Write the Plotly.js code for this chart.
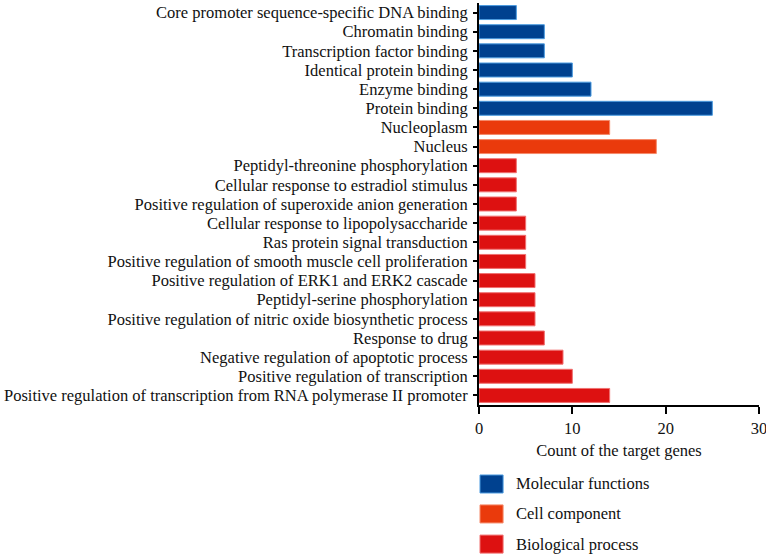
<!DOCTYPE html>
<html>
<head>
<meta charset="utf-8">
<script src="https://cdn.plot.ly/plotly-3.0.1.min.js"></script>
<style>html,body{margin:0;padding:0;background:#fff;}#chart{width:766px;height:554px;}</style>
</head>
<body>
<div id="chart"></div>
<script>
// Data (top to bottom)
const mfTerms = ["Core promoter sequence-specific DNA binding","Chromatin binding","Transcription factor binding","Identical protein binding","Enzyme binding","Protein binding"];
const mfCounts = [4, 7, 7, 10, 12, 25];
const ccTerms = ["Nucleoplasm","Nucleus"];
const ccCounts = [14, 19];
const bpTerms = ["Peptidyl-threonine phosphorylation","Cellular response to estradiol stimulus","Positive regulation of superoxide anion generation","Cellular response to lipopolysaccharide","Ras protein signal transduction","Positive regulation of smooth muscle cell proliferation","Positive regulation of ERK1 and ERK2 cascade","Peptidyl-serine phosphorylation","Positive regulation of nitric oxide biosynthetic process","Response to drug","Negative regulation of apoptotic process","Positive regulation of transcription","Positive regulation of transcription from RNA polymerase II promoter"];
const bpCounts = [4, 4, 4, 5, 5, 5, 6, 6, 6, 7, 9, 10, 14];
const groupNames = ["Molecular functions","Cell component","Biological process"];
const xTicks = [0, 10, 20, 30];

const colors = ["#00418f", "#ea3a0c", "#dd1111"];
const edges = ["#4a9be0", "#f58a6a", "#f07070"];
const FONT = "Liberation Serif, Times New Roman, serif";
const FS = 16.5;

const allTerms = mfTerms.concat(ccTerms, bpTerms);
const groups = [[mfTerms, mfCounts], [ccTerms, ccCounts], [bpTerms, bpCounts]];

const traces = groups.map((g, i) => ({
  type: "bar",
  orientation: "h",
  y: g[0],
  x: g[1],
  name: groupNames[i],
  marker: {color: colors[i], line: {color: edges[i], width: 1}},
  showlegend: false,
  hoverinfo: "x+y"
}));

// Custom legend (paper coords relative to plot area: 280 x 402 px)
const shapes = [];
const annotations = [];
const legY = [-0.1965, -0.271, -0.346];
groupNames.forEach((n, i) => {
  shapes.push({type: "rect", xref: "paper", yref: "paper",
    x0: 0.0036, x1: 0.086, y0: legY[i] - 0.0224, y1: legY[i] + 0.0224,
    fillcolor: colors[i], line: {color: edges[i], width: 1}});
  annotations.push({xref: "paper", yref: "paper", x: 0.126, y: legY[i],
    xanchor: "left", yanchor: "middle", showarrow: false, text: n,
    font: {family: FONT, size: FS, color: "#111"}});
});

const layout = {
  width: 766, height: 554,
  margin: {l: 479, r: 7, t: 3, b: 149, pad: 0},
  paper_bgcolor: "#fff", plot_bgcolor: "#fff",
  barmode: "overlay",
  bargap: 0.27,
  font: {family: FONT, size: FS, color: "#111"},
  xaxis: {
    range: [0, 30], tickmode: "array", tickvals: xTicks, ticktext: xTicks.map(String),
    ticklabeloverflow: "allow",
    showgrid: false, zeroline: false,
    showline: true, linecolor: "#000", linewidth: 2,
    ticks: "outside", ticklen: 7, tickwidth: 2, tickcolor: "#000",
    tickfont: {family: FONT, size: FS, color: "#111"},
    title: {text: "Count of the target genes", font: {family: FONT, size: FS, color: "#111"}, standoff: 8},
    fixedrange: true
  },
  yaxis: {
    type: "category",
    categoryorder: "array", categoryarray: allTerms.slice().reverse(),
    tickmode: "linear", tick0: 0, dtick: 1,
    range: [-0.5, allTerms.length - 0.5],
    showgrid: false, zeroline: false,
    showline: true, linecolor: "#000", linewidth: 2,
    ticks: "outside", ticklen: 4, tickwidth: 2, tickcolor: "#000",
    tickfont: {family: FONT, size: FS, color: "#111"},
    ticklabelstandoff: 2,
    fixedrange: true
  },
  shapes: shapes,
  annotations: annotations
};

Plotly.newPlot("chart", traces, layout, {displayModeBar: false, staticPlot: true});
</script>
</body>
</html>
